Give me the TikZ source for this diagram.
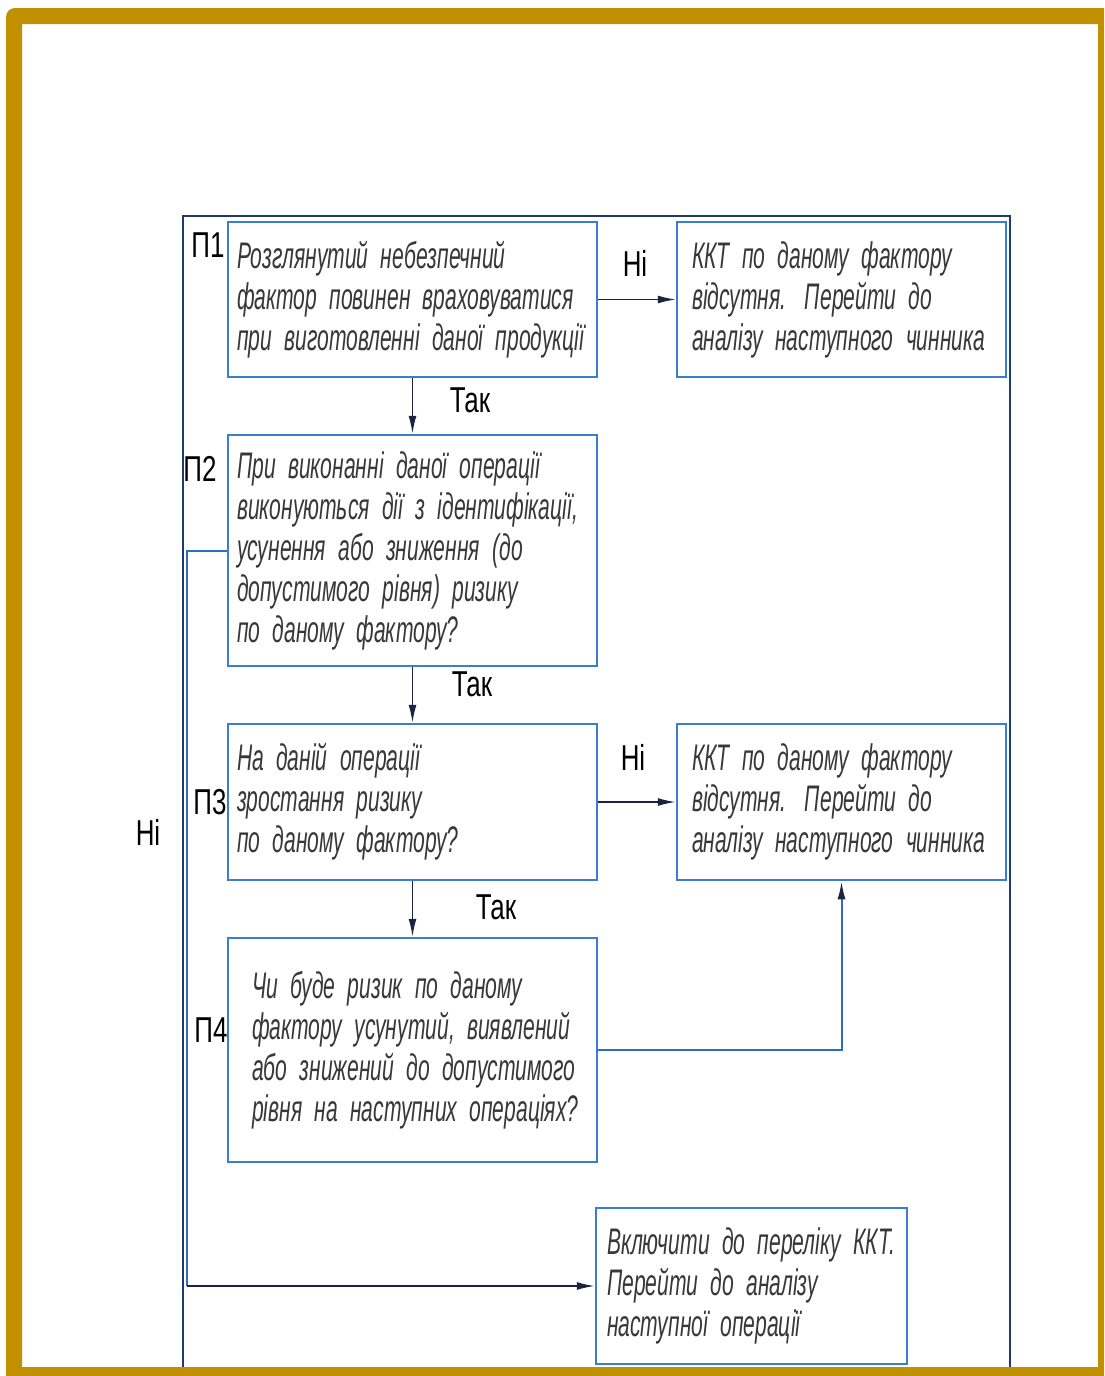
\documentclass[tikz,border=0pt]{standalone}
\usepackage{fontspec}
\setmainfont{Liberation Sans}
\newfontfamily\gostfont[FakeStretch=0.57]{Liberation Sans}
\newfontfamily\lblfont[FakeStretch=0.72]{Liberation Sans}
\usetikzlibrary{arrows.meta}

\newcommand\gostset{\gostfont\itshape\fontsize{37}{41}\selectfont
  \spaceskip=4pt\relax\xspaceskip=4pt\relax}

\definecolor{goldframe}{HTML}{C09000}
\definecolor{boxblue}{HTML}{3B7DD0}
\definecolor{framenavy}{HTML}{1F3A6E}
\definecolor{arrdark}{HTML}{1A2440}
\definecolor{loopblue}{HTML}{2E6CC0}
\definecolor{textgray}{HTML}{383838}

\tikzset{
  qbox/.style={draw=boxblue,line width=2.5pt,fill=white,text=textgray,
    font=\gostset,align=left,inner xsep=9pt,inner ysep=0pt},
  lbl/.style={font=\lblfont\fontsize{36}{40}\selectfont,inner sep=0pt},
  arr/.style={draw=arrdark,line width=1.6pt,-{Latex[length=18pt,width=8pt]}},
  loopline/.style={draw=loopblue,line width=2pt},
  looparr/.style={draw=loopblue,line width=2pt,-{Latex[length=18pt,width=8pt,color=arrdark]}}
}

\begin{document}
\begin{tikzpicture}[x=1pt,y=-1pt]
  \useasboundingbox (0,0) rectangle (1104,1376);
  \fill[white] (0,0) rectangle (1104,1376);

  % outer frame round the scheme
  \draw[framenavy,line width=2pt] (183,1367) -- (183,216) -- (1010,216) -- (1010,1367);

  % boxes
  \node[qbox,text width=351pt,minimum width=369pt,minimum height=155pt] (p1) at (412.5,299.5)
    {Розглянутий небезпечний\\фактор повинен враховуватися\\\mbox{при виготовленні даної продукції}};
  \node[qbox,inner xsep=15pt,text width=299pt,minimum width=329pt,minimum height=155pt] (kkt1) at (841.5,299.5)
    {ККТ по даному фактору\\відсутня. Перейти до\\\mbox{аналізу наступного чинника}};
  \node[qbox,text width=351pt,minimum width=369pt,minimum height=231pt] (p2) at (412.5,550.5)
    {При виконанні даної операції\\\mbox{виконуються дії з ідентифікації,}\\усунення або зниження (до\\допустимого рівня) ризику\\по даному фактору?};
  \node[qbox,text width=351pt,minimum width=369pt,minimum height=156pt] (p3) at (412.5,802)
    {На даній операції\\зростання ризику\\по даному фактору?\\[-16pt]};
  \node[qbox,inner xsep=15pt,text width=299pt,minimum width=329pt,minimum height=156pt] (kkt2) at (841.5,802)
    {ККТ по даному фактору\\відсутня. Перейти до\\\mbox{аналізу наступного чинника}};
  \node[qbox,inner xsep=24pt,text width=321pt,minimum width=369pt,minimum height=224pt] (p4) at (412.5,1050)
    {Чи буде ризик по даному\\\mbox{фактору усунутий, виявлений}\\\mbox{або знижений до допустимого}\\\mbox{рівня на наступних операціях?}};
  \node[qbox,inner xsep=11pt,text width=289pt,minimum width=311pt,minimum height=156pt] (incl) at (751.5,1286)
    {\mbox{Включити до переліку ККТ.}\\Перейти до аналізу\\наступної операції};

  % step labels
  \node[lbl] (n1) at (208,245) {П1};
  \node[lbl] (n2) at (200,469) {П2};
  \node[lbl] (n3) at (210,802) {П3};
  \node[lbl] (n4) at (211,1030) {П4};

  % connectors
  \draw[arr] (p1) -- (kkt1);
  \draw[arr] (p1) -- (p2);
  \draw[arr] (p2) -- (p3);
  \draw[arr] (p3) -- (kkt2);
  \draw[arr] (p3) -- (p4);
  \draw[looparr] (p4.east) -| (kkt2.south);
  \coordinate (lp) at (187,1286);
  \draw[loopline] (p2.west) -| (lp);
  \draw[arr] (lp) -- (incl.west);

  % answers
  \node[lbl] (no1) at (635,263) {Ні};
  \node[lbl] (yes1) at (470,400) {Так};
  \node[lbl] (yes2) at (472,684) {Так};
  \node[lbl] (no2) at (633,757) {Ні};
  \node[lbl] (yes3) at (496,907) {Так};
  \node[lbl] (no3) at (148,832) {Ні};

  % gold border
  \fill[goldframe,even odd rule] [rounded corners=9pt] (6,1376) -- (6,8) [sharp corners] -- (1104,8)
    -- (1104,1376) -- cycle (22,24) rectangle (1098,1367);
\end{tikzpicture}
\end{document}
